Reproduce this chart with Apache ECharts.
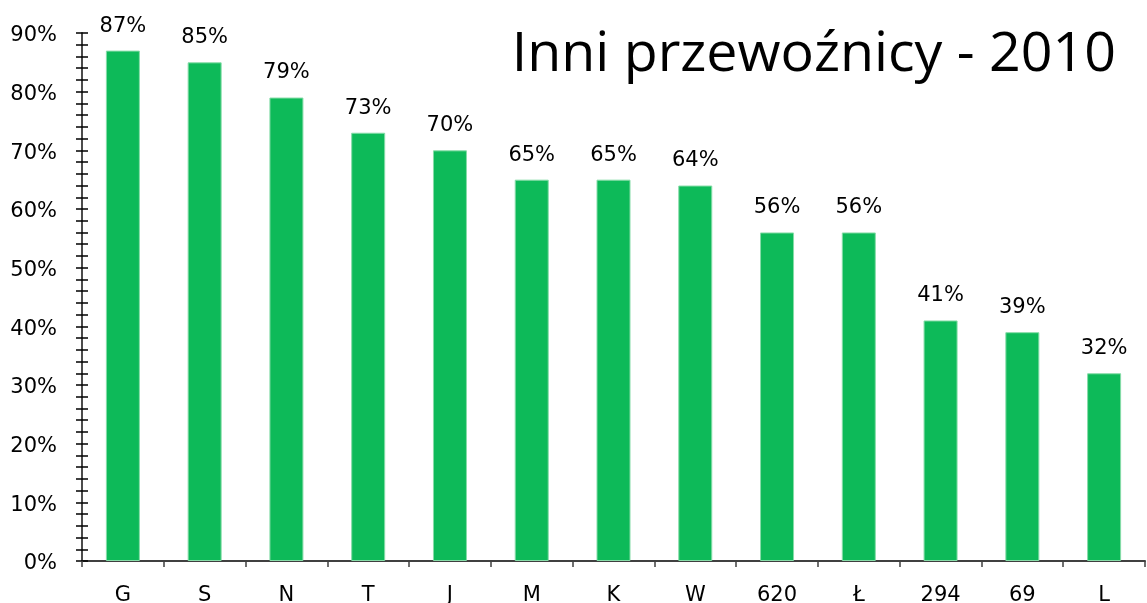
<!DOCTYPE html>
<html><head><meta charset="utf-8">
<script src="https://cdn.jsdelivr.net/npm/echarts@6/dist/echarts.min.js"></script>
<style>html,body{margin:0;padding:0;background:#fff}#c{width:1147px;height:603px}</style>
</head><body><div id="c"></div>
<script>
const categories = ['G','S','N','T','J','M','K','W','620','Ł','294','69','L'];
const values = [87,85,79,73,70,65,65,64,56,56,41,39,32];
const yTicks = {min:0, max:90, interval:10};
const titleText = 'Inni przewoźnicy - 2010';

const font = 'DejaVu Sans';
const axisColor = '#404040';
const chart = echarts.init(document.getElementById('c'), null, {renderer:'canvas'});
const yBase = {
  type:'value', min:yTicks.min, max:yTicks.max, interval:yTicks.interval,
  splitLine:{show:false},
  axisLine:{show:true, lineStyle:{color:axisColor, width:1.5}},
};
chart.setOption({
  backgroundColor:'#ffffff',
  animation:false,
  title:{text:titleText, right:26, top:22,
    textStyle:{fontFamily:'Open Sans', fontSize:55.5, fontWeight:'normal', color:'#000'}},
  grid:{left:82, right:2, top:33, bottom:42, containLabel:false, outerBoundsMode:'none'},
  xAxis:[
    {type:'category', data:categories,
     axisLine:{show:true, lineStyle:{color:axisColor, width:2}},
     axisTick:{show:true, alignWithLabel:false, length:6, inside:false, lineStyle:{color:axisColor, width:1.5}},
     axisLabel:{fontFamily:font, fontSize:21, color:'#000', margin:24}},
    {type:'category', data:categories, position:'bottom',
     axisLine:{show:false},
     axisTick:{show:true, alignWithLabel:true, length:6, inside:true, lineStyle:{color:axisColor, width:1.5}},
     axisLabel:{show:false}}
  ],
  yAxis:[
    Object.assign({}, yBase, {
      axisTick:{show:true, length:6, inside:false, lineStyle:{color:'#000', width:1.5}},
      minorTick:{show:true, splitNumber:5, length:6, lineStyle:{color:'#000', width:1.5}},
      axisLabel:{color:'#000', margin:25, formatter:v => '{a|' + v + '%}',
        rich:{a:{fontFamily:font, fontSize:21, color:'#000', padding:[6,0,0,0]}}}}),
    Object.assign({}, yBase, {position:'left', offset:0,
      axisTick:{show:true, length:6, inside:true, lineStyle:{color:'#000', width:1.5}},
      minorTick:{show:true, splitNumber:5, length:6, lineStyle:{color:'#000', width:1.5}},
      axisLabel:{show:false}})
  ],
  series:[{
    type:'bar', data:values, barWidth:34, xAxisIndex:0, yAxisIndex:0,
    itemStyle:{color:'#0dba59', borderColor:'#86dca8', borderWidth:1},
    label:{show:true, position:'top', distance:14, formatter:'{c}%',
      fontFamily:font, fontSize:21, color:'#000'}
  }]
});
</script></body></html>
